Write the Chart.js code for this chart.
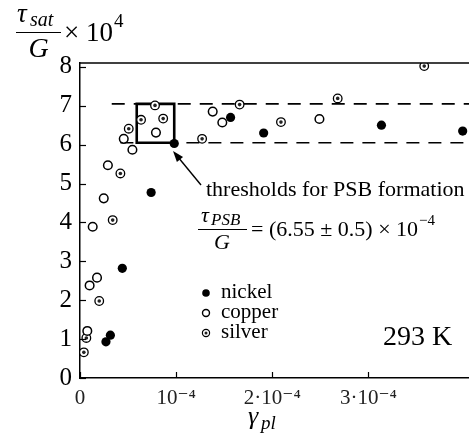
<!DOCTYPE html>
<html>
<head>
<meta charset="utf-8">
<script src="https://cdn.jsdelivr.net/npm/chart.js@4.4.1/dist/chart.umd.min.js"></script>
<style>
    html, body { margin: 0; padding: 0; background: #fff; overflow: hidden; }
    canvas { display: block; }
</style>
</head>
<body>
<!-- 元の図は右端で切れているので、キャンバスを少し広くして右端を画面外に出す -->
<canvas id="chart" width="480" height="437"></canvas>
<script>
// ============================================================
// τsat/G vs γpl (x は γpl × 10^4 の値)
// ============================================================

const nickelX = [0.27, 0.316, 0.44, 0.74, 0.98, 1.566, 1.91, 3.135, 3.98];
const nickelY = [0.93, 1.10, 2.82, 4.77, 6.03, 6.70, 6.30, 6.50, 6.35];

const copperX = [0.076, 0.10, 0.177, 0.132, 0.247, 0.29, 0.455, 0.545, 0.79, 1.38, 1.48, 2.49];
const copperY = [1.21, 2.38, 2.58, 3.89, 4.62, 5.47, 6.15, 5.87, 6.31, 6.85, 6.57, 6.66];

const silverX = [0.04, 0.066, 0.20, 0.34, 0.42, 0.507, 0.635, 0.78, 0.865, 1.27, 1.66, 2.09, 2.68, 3.58];
const silverY = [0.66, 1.03, 1.98, 4.06, 5.26, 6.41, 6.64, 7.01, 6.67, 6.15, 7.03, 6.58, 7.19, 8.02];

// しきい値（破線）と PSB 形成の四角
const thresholdLow = 6.05;
const thresholdHigh = 7.05;
const lowLineStart = 0.42;
const highLineStart = 0.33;
const boxX = [0.59, 0.98];

// 目盛り
const xTickValues = [0, 1, 2, 3];
const xTickLabels = ['0', '10⁻⁴', '2·10⁻⁴', '3·10⁻⁴'];
const yTickValues = [0, 1, 2, 3, 4, 5, 6, 7, 8];
const xMax = 4.16;
const yMax = 8.1;

const legendNames = ['nickel', 'copper', 'silver'];

const SERIF = '"Liberation Serif", "DejaVu Serif", serif';

const toPoints = (xs, ys) => xs.map((x, i) => ({ x, y: ys[i] }));

function text(ctx, s, x, y, font, align = 'left', baseline = 'alphabetic') {
    ctx.font = font;
    ctx.textAlign = align;
    ctx.textBaseline = baseline;
    ctx.fillText(s, x, y);
    return ctx.measureText(s).width;
}

function circle(ctx, x, y, r, fill, lineWidth) {
    ctx.beginPath();
    ctx.arc(x, y, r, 0, Math.PI * 2);
    ctx.fillStyle = fill;
    ctx.fill();
    if (lineWidth) {
        ctx.lineWidth = lineWidth;
        ctx.stroke();
    }
}

function arrow(ctx, x1, y1, x2, y2) {
    const a = Math.atan2(y2 - y1, x2 - x1);
    const hl = 11, hw = 4;
    ctx.lineWidth = 1.4;
    ctx.beginPath();
    ctx.moveTo(x1, y1);
    ctx.lineTo(x2 - hl * 0.8 * Math.cos(a), y2 - hl * 0.8 * Math.sin(a));
    ctx.stroke();
    ctx.beginPath();
    ctx.moveTo(x2, y2);
    ctx.lineTo(x2 - hl * Math.cos(a) + hw * Math.sin(a), y2 - hl * Math.sin(a) - hw * Math.cos(a));
    ctx.lineTo(x2 - hl * Math.cos(a) - hw * Math.sin(a), y2 - hl * Math.sin(a) + hw * Math.cos(a));
    ctx.closePath();
    ctx.fill();
}

// PSB 形成の四角（スケールから座標を取る）
const psbBox = {
    id: 'psbBox',
    beforeDatasetsDraw(chart) {
        const { ctx, scales } = chart;
        const x0 = scales.x.getPixelForValue(boxX[0]);
        const x1 = scales.x.getPixelForValue(boxX[1]);
        const y0 = scales.y.getPixelForValue(thresholdHigh);
        const y1 = scales.y.getPixelForValue(thresholdLow);
        ctx.save();
        ctx.setLineDash([]);
        ctx.strokeStyle = '#000';
        ctx.lineWidth = 2.6;
        ctx.lineJoin = 'miter';
        ctx.beginPath();
        ctx.rect(x0, y0, x1 - x0, y1 - y0);
        ctx.stroke();
        ctx.restore();
    },
};

// 注釈・凡例・軸タイトル・内向きの目盛り
const annotations = {
    id: 'annotations',
    afterDraw(chart) {
        const { ctx, chartArea, scales } = chart;
        const xs = scales.x, ys = scales.y;
        ctx.save();
        ctx.fillStyle = '#000';
        ctx.strokeStyle = '#000';
        ctx.setLineDash([]);

        // 上の枠線
        ctx.lineWidth = 1.5;
        ctx.beginPath();
        ctx.moveTo(chartArea.left, chartArea.top);
        ctx.lineTo(chart.width, chartArea.top);
        ctx.stroke();

        // 内向きの目盛り
        ctx.lineWidth = 1.2;
        yTickValues.forEach(v => {
            const py = Math.round(ys.getPixelForValue(v)) + 0.5;
            ctx.beginPath();
            ctx.moveTo(chartArea.left, py);
            ctx.lineTo(chartArea.left + 6, py);
            ctx.stroke();
        });
        xTickValues.forEach(v => {
            const px = Math.round(xs.getPixelForValue(v)) + 0.5;
            ctx.beginPath();
            ctx.moveTo(px, chartArea.bottom);
            ctx.lineTo(px, chartArea.bottom - 6);
            ctx.stroke();
        });

        // 縦軸タイトル τsat/G × 10^4
        text(ctx, 'τ', 17, 22, `italic 27px ${SERIF}`);
        text(ctx, 'sat', 30, 26, `italic 20px ${SERIF}`);
        ctx.lineWidth = 1.2;
        ctx.beginPath();
        ctx.moveTo(16, 32.5);
        ctx.lineTo(61, 32.5);
        ctx.stroke();
        text(ctx, 'G', 38.5, 57, `italic 28px ${SERIF}`, 'center');
        const w10 = text(ctx, '× 10', 64, 41, `27px ${SERIF}`);
        text(ctx, '4', 64 + w10 + 1, 27, `19px ${SERIF}`);

        // 横軸タイトル γpl
        text(ctx, 'γ', 248, 424, `italic 26px ${SERIF}`);
        text(ctx, 'pl', 261, 429, `italic 19px ${SERIF}`);

        // 矢印と説明
        arrow(ctx, 201, 185, 173, 151);
        text(ctx, 'thresholds for PSB formation', 206, 196, `22px ${SERIF}`);

        // τPSB/G = (6.55 ± 0.5) × 10^-4
        text(ctx, 'τ', 201, 222, `italic 22px ${SERIF}`);
        text(ctx, 'PSB', 211, 225, `italic 17px ${SERIF}`);
        ctx.lineWidth = 1.1;
        ctx.beginPath();
        ctx.moveTo(198, 229.5);
        ctx.lineTo(247, 229.5);
        ctx.stroke();
        text(ctx, 'G', 222, 249, `italic 22px ${SERIF}`, 'center');
        const wEq = text(ctx, '= (6.55 ± 0.5) × 10', 251, 236, `22px ${SERIF}`);
        text(ctx, '−4', 251 + wEq + 1, 225, `15px ${SERIF}`);

        // 凡例
        const legendY = [293, 313, 333];
        const lx = 206;
        circle(ctx, lx, legendY[0], 3.8, '#000', 0);
        circle(ctx, lx, legendY[1], 3.5, '#fff', 1.4);
        circle(ctx, lx, legendY[2], 3.6, '#fff', 1.2);
        circle(ctx, lx, legendY[2], 1.5, '#222', 0);
        ctx.fillStyle = '#000';
        legendNames.forEach((name, i) => {
            text(ctx, name, 221, legendY[i] - 1, `21px ${SERIF}`, 'left', 'middle');
        });

        // 温度
        text(ctx, '293 K', 383, 345, `28px ${SERIF}`);

        ctx.restore();
    },
};

const lineStyle = {
    type: 'line',
    borderColor: '#000',
    pointRadius: 0,
    fill: false,
    order: 2,
};

new Chart(document.getElementById('chart').getContext('2d'), {
    type: 'scatter',
    data: {
        datasets: [
            {
                ...lineStyle,
                label: 'upper threshold',
                data: [{ x: highLineStart, y: thresholdHigh }, { x: xMax, y: thresholdHigh }],
                borderWidth: 1.6,
                borderDash: [13, 9],
            },
            {
                ...lineStyle,
                label: 'lower threshold',
                data: [{ x: lowLineStart, y: thresholdLow }, { x: xMax, y: thresholdLow }],
                borderWidth: 1.6,
                borderDash: [13, 9],
            },
            {
                label: 'nickel',
                data: toPoints(nickelX, nickelY),
                pointStyle: 'circle',
                pointRadius: 4.6,
                backgroundColor: '#000',
                borderColor: '#000',
                borderWidth: 0,
                order: 1,
            },
            {
                label: 'copper',
                data: toPoints(copperX, copperY),
                pointStyle: 'circle',
                pointRadius: 4.3,
                backgroundColor: '#fff',
                borderColor: '#000',
                borderWidth: 1.5,
                order: 1,
            },
            {
                label: 'silver',
                data: toPoints(silverX, silverY),
                pointStyle: 'circle',
                pointRadius: 4.3,
                backgroundColor: '#fff',
                borderColor: '#000',
                borderWidth: 1.3,
                order: 1,
            },
            {
                // silver の中心の点
                label: 'silver dot',
                data: toPoints(silverX, silverY),
                pointStyle: 'circle',
                pointRadius: 1.8,
                backgroundColor: '#222',
                borderColor: '#222',
                borderWidth: 0,
                order: 0,
            },
        ],
    },
    options: {
        responsive: false,
        animation: false,
        layout: { autoPadding: false, padding: { top: 63, left: 0, right: 0, bottom: 0 } },
        plugins: {
            legend: { display: false },
            tooltip: { enabled: false },
        },
        scales: {
            x: {
                type: 'linear',
                min: 0,
                max: xMax,
                afterFit: (s) => { s.height = 59; },
                afterBuildTicks: (s) => { s.ticks = xTickValues.map(v => ({ value: v })); },
                grid: { display: false, drawTicks: false },
                border: { display: true, color: '#000', width: 1.5 },
                ticks: {
                    autoSkip: false,
                    maxRotation: 0,
                    padding: 8,
                    color: '#222',
                    font: { family: SERIF, size: 21 },
                    callback: (v, i) => xTickLabels[i],
                },
            },
            y: {
                min: 0,
                max: yMax,
                afterFit: (s) => { s.width = 80; },
                afterBuildTicks: (s) => { s.ticks = yTickValues.map(v => ({ value: v })); },
                grid: { display: false, drawTicks: false },
                border: { display: true, color: '#000', width: 1.5 },
                ticks: {
                    padding: 8,
                    color: '#000',
                    font: { family: SERIF, size: 25 },
                    callback: (v) => String(v),
                },
            },
        },
    },
    plugins: [psbBox, annotations],
});
</script>
</body>
</html>
